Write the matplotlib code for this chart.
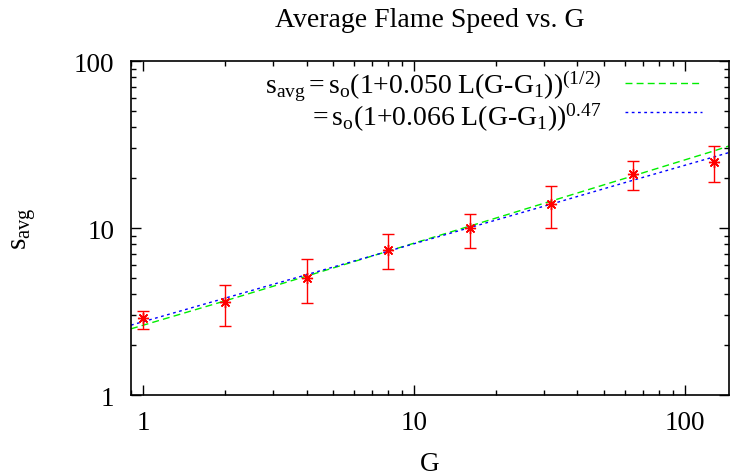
import matplotlib
matplotlib.use('Agg')
import matplotlib.pyplot as plt
from matplotlib.ticker import LogLocator, NullFormatter, FixedLocator, FixedFormatter

plt.rcParams['font.family'] = ['Liberation Serif', 'DejaVu Serif']
plt.rcParams['mathtext.fontset'] = 'custom'
plt.rcParams['mathtext.rm'] = 'Liberation Serif'
plt.rcParams['mathtext.it'] = 'Liberation Serif:italic'
plt.rcParams['font.size'] = 19.5

# measured points
G = [1, 2, 4, 8, 16, 32, 64, 128]
s_avg = [2.89, 3.59, 5.02, 7.38, 9.96, 14.0, 21.2, 24.9]
err_lo = [2.5, 2.59, 3.54, 5.66, 7.56, 9.96, 16.9, 18.8]
err_hi = [3.2, 4.58, 6.55, 9.17, 12.2, 17.9, 25.3, 30.8]

# fit curves
G_fit = [0.9, 1, 2, 4, 8, 16, 32, 64, 128, 145]
fit_half = [2.49, 2.62, 3.66, 5.15, 7.27, 10.26, 14.5, 20.5, 29.0, 31.0]
fit_047 = [2.62, 2.75, 3.80, 5.25, 7.26, 10.05, 13.9, 19.3, 26.7, 28.3]

lab_half = r'$\mathrm{s_{avg}{=}s_o(1{+}0.050\ L(G\text{-}G_1))^{(1/2)}}$'
lab_047 = r'$\mathrm{{=}s_o(1{+}0.066\ L(G\text{-}G_1))^{0.47}}$'

fig = plt.figure(figsize=(7.31, 4.77), dpi=100)
ax = fig.add_axes([0.1792, 0.1698, 0.8181, 0.7002])

yerr = [[v - lo for v, lo in zip(s_avg, err_lo)], [hi - v for v, hi in zip(s_avg, err_hi)]]
ax.errorbar(G, s_avg, yerr=yerr, fmt='none', ecolor='#ff0000', elinewidth=1.0,
            capsize=4.5, capthick=1.0, zorder=3)
ax.plot(G, s_avg, linestyle='none', marker=(8, 2, 0), markersize=8,
        color='#ff0000', markeredgewidth=1.0, zorder=4)

ax.plot(G_fit, fit_half, color='#00ee00', linewidth=1.0, dashes=(5, 3), zorder=2)
ax.plot(G_fit, fit_047, color='#0000ff', linewidth=1.0, dashes=(2, 2.5), zorder=2)

ax.set_xscale('log')
ax.set_yscale('log')
ax.set_xlim(0.9, 145)
ax.set_ylim(1, 100)

ax.xaxis.set_major_locator(FixedLocator([1, 10, 100]))
ax.xaxis.set_major_formatter(FixedFormatter(['1', '10', '100']))
ax.yaxis.set_major_locator(FixedLocator([1, 10, 100]))
ax.yaxis.set_major_formatter(FixedFormatter(['1', '10', '100']))
ax.xaxis.set_minor_locator(LogLocator(base=10, subs=range(2, 10)))
ax.yaxis.set_minor_locator(LogLocator(base=10, subs=range(2, 10)))
ax.xaxis.set_minor_formatter(NullFormatter())
ax.yaxis.set_minor_formatter(NullFormatter())

ax.tick_params(which='both', direction='in', top=True, right=True, width=1.0)
ax.tick_params(which='major', length=7)
ax.tick_params(which='minor', length=3.5)
ax.tick_params(axis='y', which='major', pad=12)
ax.tick_params(axis='x', which='major', pad=11)
for sp in ax.spines.values():
    sp.set_linewidth(1.2)

ax.set_title('Average Flame Speed vs. G', fontsize=20, pad=25)
ax.set_xlabel('G', labelpad=11)
ax.set_ylabel(r'$\mathrm{s_{avg}}$', fontsize=21, labelpad=26)

# key, gnuplot style (text right-aligned, sample to the right)
ax.text(0.787, 0.907, lab_half, transform=ax.transAxes, ha='right', va='baseline',
        fontsize=20)
ax.text(0.787, 0.808, lab_047, transform=ax.transAxes, ha='right', va='baseline',
        fontsize=20)
ax.plot([0.826, 0.955], [0.934, 0.934], transform=ax.transAxes,
        color='#00ee00', linewidth=1.0, dashes=(5, 3))
ax.plot([0.826, 0.955], [0.847, 0.847], transform=ax.transAxes,
        color='#0000ff', linewidth=1.0, dashes=(2, 2.5))

fig.savefig('out.png', dpi=100)
